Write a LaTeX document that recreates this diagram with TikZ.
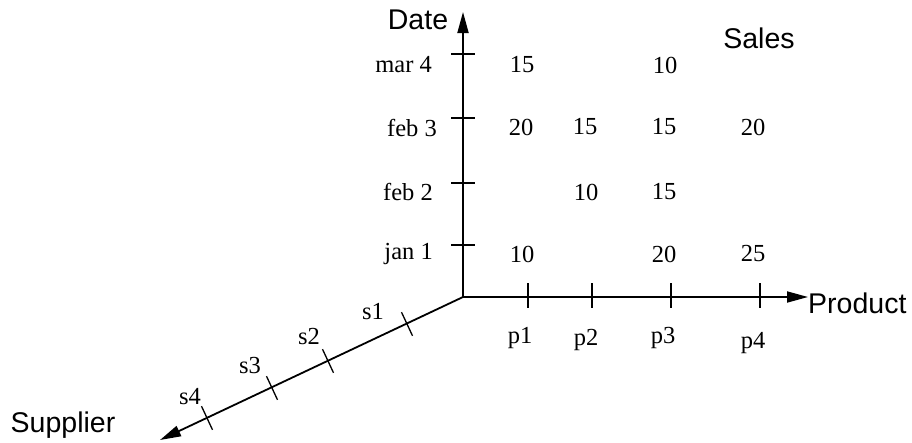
\documentclass[tikz,border=0pt]{standalone}
\usepackage{fontspec}
\setmainfont{Liberation Serif}
\setsansfont{Liberation Sans}
\usetikzlibrary{arrows.meta,calc}
\begin{document}
\begin{tikzpicture}[x=1pt,y=-1pt,
  axisline/.style={line width=1.8pt,-{Triangle[length=21pt,width=11pt]}},
  tickmark/.style={line width=1.3pt},
  lab/.style={font=\fontsize{24.5}{26}\selectfont,inner sep=0pt},
  ttl/.style={font=\sffamily\fontsize{28.5}{30}\selectfont,inner sep=0pt}]
\useasboundingbox (0,0) rectangle (912,442);
% axes
\coordinate (O) at (463,297);
\coordinate (Dtip) at (463,12);
\coordinate (Ptip) at (808,297);
\coordinate (Stip) at (160,440);
\draw[axisline] (O) -- (Dtip);
\draw[axisline] (O) -- (Ptip);
\draw[axisline] (O) -- (Stip);
% date ticks
\foreach \n/\y in {d4/54,d3/118,d2/183,d1/245}{
  \coordinate (\n) at (463,\y);
  \draw[tickmark] ([xshift=-12pt]\n) -- ([xshift=12pt]\n);
}
% product ticks
\foreach \n/\x in {p1/528,p2/592,p3/671,p4/760}{
  \coordinate (\n) at (\x,297);
  \draw[tickmark] ([yshift=14pt]\n) -- ([yshift=-11pt]\n);
}
% supplier ticks
\foreach \n/\x/\y in {s1/407/324,s2/328/361,s3/272/388,s4/207/418}{
  \coordinate (\n) at (\x,\y);
  \draw[tickmark] ($(\n)+(-5.5,-11.8)$) -- ($(\n)+(5.5,11.8)$);
}
% axis titles
\node[ttl] (tDate) at (418,20) {Date};
\node[ttl,anchor=west] (tProd) at (808,303) {Product};
\node[ttl] (tSupp) at (63,425) {Supplier};
\node[ttl] (tSales) at (759,38) {Sales};
% date labels
\node[lab,anchor=east] (lm4) at (432,65) {mar 4};
\node[lab,anchor=east] (lf3) at (437,128) {feb 3};
\node[lab,anchor=east] (lf2) at (433,192) {feb 2};
\node[lab,anchor=east] (lj1) at (433,254) {jan 1};
% product labels
\node[lab] (lp1) at (520,338) {p1};
\node[lab] (lp2) at (586,340) {p2};
\node[lab] (lp3) at (663,338) {p3};
\node[lab] (lp4) at (753,343) {p4};
% supplier labels
\node[lab] (ls1) at (373,312) {s1};
\node[lab] (ls2) at (309,337) {s2};
\node[lab] (ls3) at (250,366) {s3};
\node[lab] (ls4) at (190,397) {s4};
% sales values
\node[lab] (v11) at (522,65) {15};
\node[lab] (v13) at (665,65) {10};
\node[lab] (v21) at (521,127) {20};
\node[lab] (v22) at (585,127) {15};
\node[lab] (v23) at (664,127) {15};
\node[lab] (v24) at (753,127) {20};
\node[lab] (v32) at (586,192) {10};
\node[lab] (v33) at (664,192) {15};
\node[lab] (v41) at (522,254) {10};
\node[lab] (v43) at (664,254) {20};
\node[lab] (v44) at (753,254) {25};
\end{tikzpicture}
\end{document}
